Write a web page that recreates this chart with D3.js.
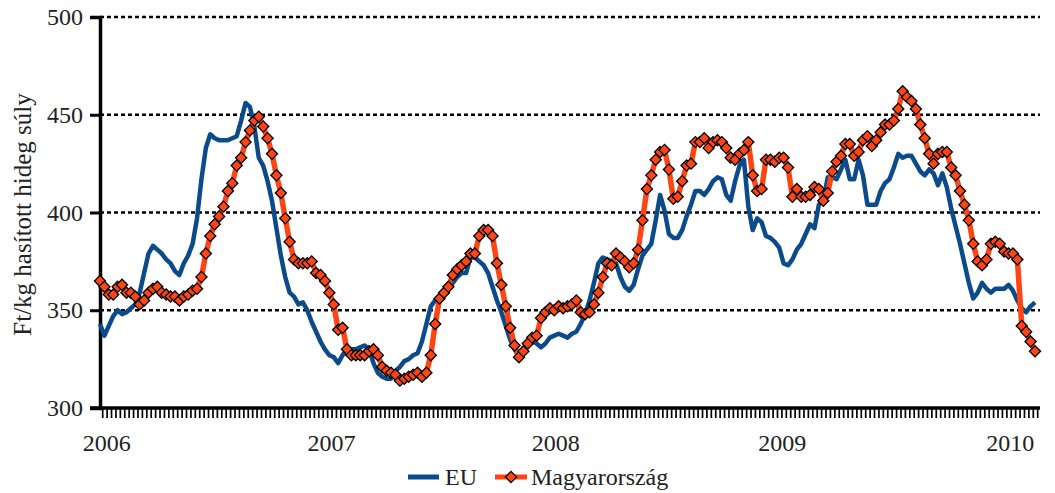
<!DOCTYPE html>
<html>
<head>
<meta charset="utf-8">
<script src="https://cdn.jsdelivr.net/npm/d3@7"></script>
<style>
  html, body { margin: 0; padding: 0; background: #fff; }
  svg { display: block; }
  text { font-family: "Liberation Serif", "Times New Roman", serif; fill: #222; }
</style>
</head>
<body>
<svg id="chart" width="1055" height="493"></svg>
<script>
// ---- data (weekly prices, Ft/kg) ----
const years = ["2006", "2007", "2008", "2009", "2010"];
const yearWeekIndex = [1.4, 52.4, 103.2, 154.6, 206.3];
const yTicks = [300, 350, 400, 450, 500];
const seriesNames = ["EU", "Magyarország"];

const euValues = [
343,337,342,347,350,348,349,351,353,359,369,379,383,381,379,376,374,370,368,374,
378,384,397,417,433,440,438,437,437,437,438,439,447,456,454,444,428,424,416,406,
392,378,367,359,357,353,354,350,344,339,334,330,327,326,323,327,330,330,330,331,
332,330,323,318,316,315,315,319,321,324,325,327,328,334,343,352,355,357,359,361,
364,367,369,369,377,377,375,373,369,362,355,349,342,335,330,326,330,332,334,333,
331,333,336,337,338,337,336,338,339,343,348,355,364,374,377,376,375,374,367,362,
360,363,371,378,381,384,396,409,401,389,387,387,391,398,404,411,411,409,412,416,
418,417,409,406,416,424,427,403,391,397,395,388,387,385,382,374,373,376,381,384,
389,394,392,404,406,418,418,417,422,427,417,417,427,419,404,404,404,411,415,417,
423,430,428,429,429,425,421,419,422,420,414,420,413,402,393,384,374,364,356,359,
364,361,359,361,361,361,363,360,355,351,349,352,354
];

const huValues = [
365,362,358,358,362,363,359,359,357,353,355,359,361,362,359,358,357,357,355,357,
358,360,361,367,379,388,394,398,403,411,415,424,428,436,442,447,449,444,438,430,
419,410,397,385,376,374,374,374,375,369,368,365,359,353,340,341,330,327,327,327,
327,329,330,327,321,319,318,317,314,315,316,317,318,316,318,327,343,356,359,362,
368,371,373,375,379,379,388,391,391,388,374,363,352,341,332,326,329,333,336,337,
346,349,351,350,352,351,352,353,355,349,348,349,353,359,367,374,373,379,377,375,
372,374,381,396,412,419,427,431,432,422,407,408,416,424,425,436,436,438,433,436,
437,436,433,428,427,430,432,436,419,411,412,427,427,426,428,428,423,408,412,408,
408,409,413,412,406,410,421,426,429,435,435,429,431,437,439,434,437,441,445,445,
447,453,462,459,457,453,445,438,430,425,430,431,431,423,419,411,404,396,384,375,
373,376,384,385,384,380,379,379,376,342,339,334,329
];

// ---- layout ----
const svg = d3.select("#chart");
const plotLeft = 100, plotRight = 1040, plotTop = 17, plotBottom = 408;
const N = euValues.length;

const x = d3.scaleLinear().domain([0, N - 1]).range([100, 1035]);
const y = d3.scaleLinear().domain([300, 500]).range([plotBottom, plotTop]);

const euColor = "#0b4b8b";
const huColor = "#ff4512";

// gridlines
svg.append("g")
  .selectAll("line")
  .data(yTicks.filter(d => d > 300))
  .join("line")
  .attr("x1", plotLeft).attr("x2", plotRight)
  .attr("y1", d => y(d)).attr("y2", d => y(d))
  .attr("stroke", "#000").attr("stroke-width", 2.5)
  .attr("stroke-dasharray", "4,3");

// y axis
const yAxis = d3.axisLeft(y).tickValues(yTicks).tickSize(10).tickPadding(7).tickFormat(d3.format("d"));
const gy = svg.append("g").attr("transform", `translate(${plotLeft},0)`).call(yAxis);
gy.select(".domain").attr("stroke", "#000").attr("stroke-width", 3.5);
gy.selectAll(".tick line").attr("stroke", "#000").attr("stroke-width", 3);
gy.selectAll(".tick text").style("font-family", "Liberation Serif, serif").style("font-size", "24px").attr("fill", "#333");

// x axis: weekly minor ticks
const tickPos = d3.range(-0.5, N + 1, 1).filter(v => x(v) >= plotLeft && x(v) <= plotRight);
const xAxis = d3.axisBottom(x).tickValues(tickPos).tickSize(10).tickFormat("");
const gx = svg.append("g").attr("transform", `translate(0,${plotBottom})`).call(xAxis);
gx.select(".domain").remove();
gx.selectAll(".tick line").attr("stroke", "#000").attr("stroke-width", 1.7);
svg.append("line").attr("x1", plotLeft - 10).attr("x2", plotRight).attr("y1", plotBottom).attr("y2", plotBottom)
  .attr("stroke", "#000").attr("stroke-width", 3.5);

// year labels
const yearAxis = d3.axisBottom(x).tickValues(yearWeekIndex).tickSize(0).tickPadding(26)
  .tickFormat((d, i) => years[i]);
const gyear = svg.append("g").attr("transform", `translate(0,${plotBottom})`).call(yearAxis);
gyear.select(".domain").remove();
gyear.selectAll(".tick text").style("font-family", "Liberation Serif, serif").style("font-size", "24px").attr("fill", "#222");

// axis title
svg.append("text")
  .attr("transform", `translate(22,${(plotTop + plotBottom) / 2 + 2}) rotate(-90)`)
  .attr("text-anchor", "middle")
  .attr("dominant-baseline", "central")
  .style("font-size", "25px")
  .attr("fill", "#333")
  .text("Ft/kg hasított hideg súly");

// lines
const line = d3.line().x((d, i) => x(i)).y(d => y(d));
svg.append("path").datum(euValues).attr("d", line)
  .attr("fill", "none").attr("stroke", euColor).attr("stroke-width", 4.5)
  .attr("stroke-linejoin", "round");
svg.append("path").datum(huValues).attr("d", line)
  .attr("fill", "none").attr("stroke", huColor).attr("stroke-width", 5.5)
  .attr("stroke-linejoin", "round");

const diamond = d3.symbol().type(d3.symbolSquare).size(62);
svg.append("g").selectAll("path")
  .data(huValues)
  .join("path")
  .attr("d", diamond)
  .attr("transform", (d, i) => `translate(${x(i)},${y(d)}) rotate(45)`)
  .attr("fill", huColor).attr("stroke", "#000").attr("stroke-width", 1.3);

// legend
const leg = svg.append("g");
leg.append("line").attr("x1", 408).attr("x2", 439).attr("y1", 477).attr("y2", 477)
  .attr("stroke", euColor).attr("stroke-width", 5);
leg.append("text").attr("x", 445).attr("y", 485).style("font-size", "24px").text(seriesNames[0]);
leg.append("line").attr("x1", 495).attr("x2", 527).attr("y1", 477).attr("y2", 477)
  .attr("stroke", huColor).attr("stroke-width", 5);
leg.append("path").attr("d", diamond).attr("transform", "translate(511,477) rotate(45)")
  .attr("fill", huColor).attr("stroke", "#000").attr("stroke-width", 1.3);
leg.append("text").attr("x", 531).attr("y", 485).style("font-size", "24px").text(seriesNames[1]);
</script>
</body>
</html>
